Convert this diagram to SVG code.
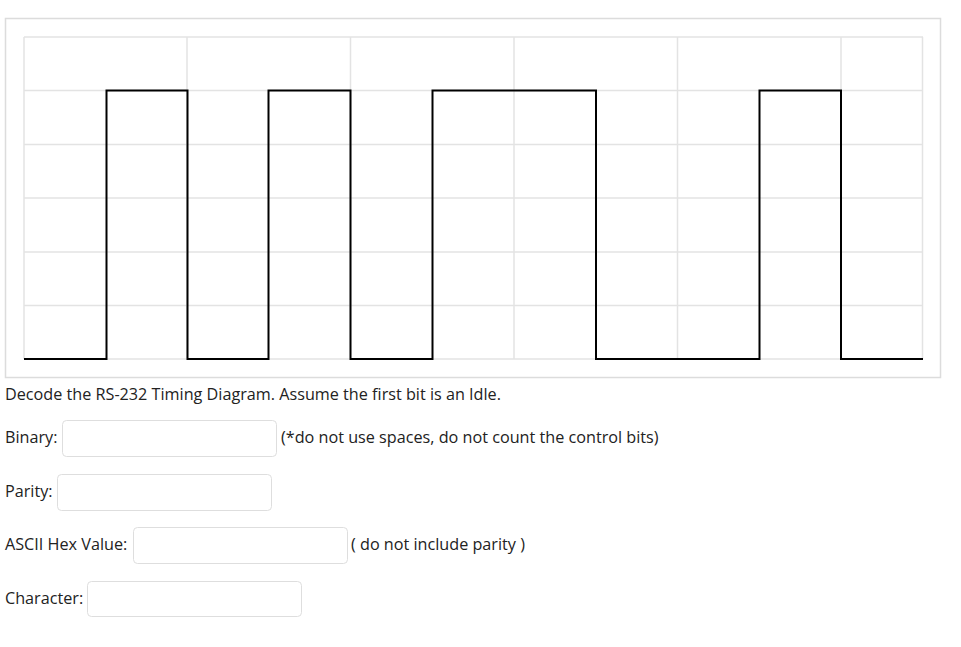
<svg xmlns="http://www.w3.org/2000/svg" width="961" height="647" viewBox="0 0 961 647">
<style>
.grid{stroke:#e3e3e3;stroke-width:1.5;fill:none}
.sig{stroke:#000;stroke-width:2;fill:none}
.frame{stroke:#dcdcdc;stroke-width:1.5;fill:#fff}
.box{stroke:#dedede;stroke-width:1;fill:#fff}
text{font-family:"Open Sans","Noto Sans","Liberation Sans",sans-serif;font-size:16.2px;fill:#222}
</style>
<rect width="961" height="647" fill="#fff"/>
<g id="chart">
<rect class="frame" x="5.5" y="18.5" width="935" height="359"/>
<g class="grid">
<path d="M24 37H923M24 90.5H923M24 144.5H923M24 198H923M24 252H923M24 305.5H923M24 359H923"/>
<path d="M24 37V359M187 37V359M350.5 37V359M514 37V359M677.5 37V359M841 37V359M922.5 37V359"/>
</g>
<path class="sig" d="M24 359H106.5V90.5H187.5V359H268.5V90.5H350.5V359H432.5V90.5H596V359H759.5V90.5H841V359H923"/>
</g>
<text x="5" y="400">Decode the RS-232 Timing Diagram. Assume the first bit is an Idle.</text>
<g id="binary">
<text x="5" y="443">Binary:</text>
<rect class="box" x="62.5" y="420.5" width="214" height="36" rx="4"/>
<text x="281" y="443">(*do not use spaces, do not count the control bits)</text>
</g>
<g id="parity">
<text x="5" y="497">Parity:</text>
<rect class="box" x="57.5" y="474.5" width="214" height="36" rx="4"/>
</g>
<g id="hex">
<text x="5" y="550">ASCII Hex Value:</text>
<rect class="box" x="133.5" y="527.5" width="214" height="36" rx="4"/>
<text x="351" y="550">( do not include parity )</text>
</g>
<g id="character">
<text x="5" y="604">Character:</text>
<rect class="box" x="87.5" y="581.5" width="214" height="35" rx="4"/>
</g>
</svg>
